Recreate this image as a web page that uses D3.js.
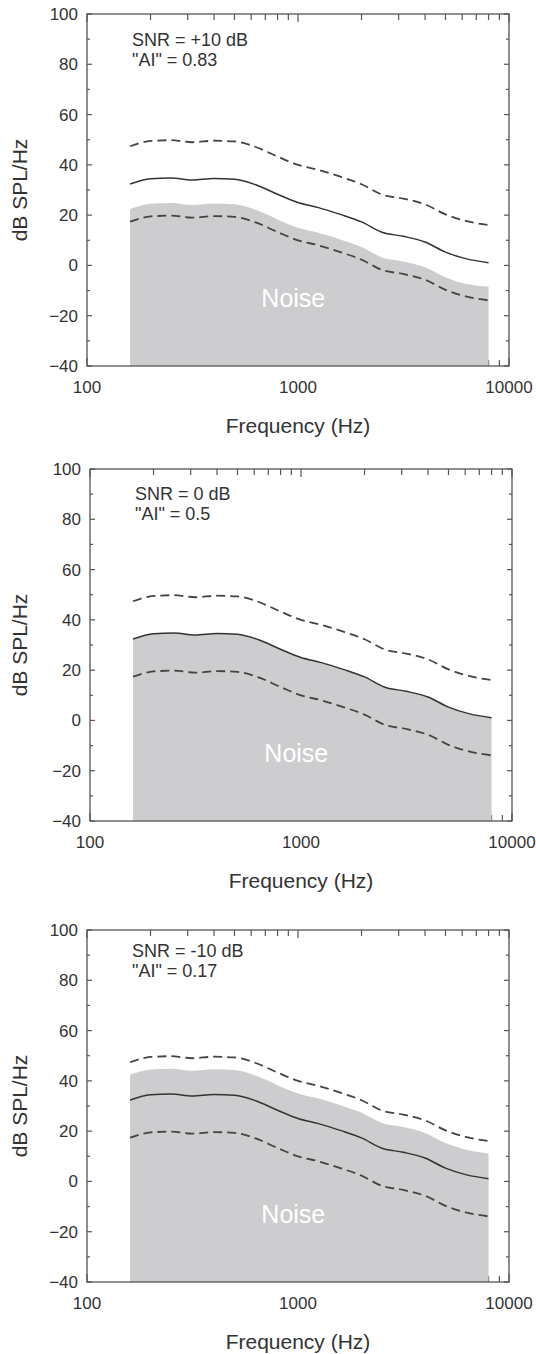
<!DOCTYPE html>
<html>
<head>
<meta charset="utf-8">
<script src="https://cdn.jsdelivr.net/npm/d3@7/dist/d3.min.js"></script>
<style>
body { margin: 0; background: #fff; }
svg { display: block; font-family: "Liberation Sans", Arial, sans-serif; }
</style>
</head>
<body>
<svg id="chart" width="536" height="1354"></svg>
<script>
// 1/3-octave band centres (Hz)
var freqs = [160, 200, 250, 315, 400, 500, 630, 800, 1000, 1250, 1600, 2000, 2500, 3150, 4000, 5000, 6300, 8000];

// speech spectrum (solid) and its dynamic range (dashed), dB SPL/Hz
var speech     = [32.4, 34.5, 34.8, 34.0, 34.6, 34.3, 32.1, 28.3, 25.0, 23.0, 20.2, 17.3, 13.2, 11.6, 9.3, 5.3, 2.6, 1.1];
var speechHigh = [47.4, 49.5, 49.8, 49.0, 49.6, 49.3, 47.1, 43.3, 40.0, 38.0, 35.2, 32.3, 28.2, 26.6, 24.3, 20.3, 17.6, 16.1];
var speechLow  = [17.4, 19.5, 19.8, 19.0, 19.6, 19.3, 17.1, 13.3, 10.0, 8.0, 5.2, 2.3, -1.8, -3.4, -5.7, -9.7, -12.4, -13.9];

// noise spectrum in each panel
var noisePlus10  = [22.4, 24.5, 24.8, 24.0, 24.6, 24.3, 22.1, 18.3, 15.0, 13.0, 10.2, 7.3, 3.2, 1.6, -0.7, -4.7, -7.4, -8.4];
var noiseZero    = [32.4, 34.5, 34.8, 34.0, 34.6, 34.3, 32.1, 28.3, 25.0, 23.0, 20.2, 17.3, 13.2, 11.6, 9.3, 5.3, 2.6, 1.1];
var noiseMinus10 = [42.4, 44.5, 44.8, 44.0, 44.6, 44.3, 42.1, 38.3, 35.0, 33.0, 30.2, 27.3, 23.2, 21.6, 19.3, 15.3, 12.6, 11.1];

var snrLabels = ["SNR = +10 dB", "SNR = 0 dB", "SNR = -10 dB"];
var aiLabels = ['"AI" = 0.83', '"AI" = 0.5', '"AI" = 0.17'];

var xTickValues = [100, 1000, 10000];
var yTickValues = [100, 80, 60, 40, 20, 0, -20, -40];

var noiseSets = [noisePlus10, noiseZero, noiseMinus10];

// layout
var width = 422,
    height = 352;
var panelLefts = [87, 90, 87],
    panelTops = [14, 469, 930],
    textTops = [32, 31, 27];

var svg = d3.select("#chart");

function fmt(v) { return v < 0 ? "\u2212" + (-v) : "" + v; }

panelTops.forEach(function(top, p) {
  var x = d3.scaleLog().domain([100, 10000]).range([0, width]);
  var y = d3.scaleLinear().domain([-40, 100]).range([height, 0]);

  var g = svg.append("g")
      .attr("transform", "translate(" + panelLefts[p] + "," + top + ")");

  // tick marks, all pointing inward
  var xt = x.ticks();
  var isMajor = function(d) { return xTickValues.indexOf(d) >= 0; };
  g.selectAll(".xtb").data(xt).enter().append("line")
      .attr("x1", x).attr("x2", x)
      .attr("y1", height).attr("y2", function(d) { return height - (isMajor(d) ? 8 : 6); });
  g.selectAll(".xtt").data(xt).enter().append("line")
      .attr("x1", x).attr("x2", x)
      .attr("y1", 0).attr("y2", function(d) { return isMajor(d) ? 8 : 6; });

  var yt = y.ticks(14);
  var yLen = function(d) { return yTickValues.indexOf(d) >= 0 ? 5 : 3; };
  g.selectAll(".ytl").data(yt).enter().append("line")
      .attr("x1", 0).attr("x2", yLen)
      .attr("y1", y).attr("y2", y);
  g.selectAll(".ytr").data(yt).enter().append("line")
      .attr("x1", width).attr("x2", function(d) { return width - yLen(d); })
      .attr("y1", y).attr("y2", y);
  g.selectAll("line").attr("stroke", "#555").attr("stroke-width", 1.2);

  // noise band
  var area = d3.area()
      .x(function(d, i) { return x(freqs[i]); })
      .y0(y(-40))
      .y1(function(d) { return y(d); })
      .curve(d3.curveMonotoneX);
  g.append("path")
      .datum(noiseSets[p])
      .attr("d", area)
      .attr("fill", "#cdcdd0");

  var line = d3.line()
      .x(function(d, i) { return x(freqs[i]); })
      .y(function(d) { return y(d); })
      .curve(d3.curveMonotoneX);

  [speechHigh, speechLow].forEach(function(s) {
    g.append("path")
        .datum(s)
        .attr("d", line)
        .attr("fill", "none")
        .attr("stroke", "#444")
        .attr("stroke-width", 1.8)
        .attr("stroke-dasharray", "9,5");
  });
  g.append("path")
      .datum(speech)
      .attr("d", line)
      .attr("fill", "none")
      .attr("stroke", "#333")
      .attr("stroke-width", 1.5);

  // frame
  g.append("rect")
      .attr("width", width).attr("height", height)
      .attr("fill", "none")
      .attr("stroke", "#555")
      .attr("stroke-width", 1.3);

  // tick labels
  g.selectAll(".xl").data(xTickValues).enter().append("text")
      .attr("x", x)
      .attr("y", height + 27)
      .attr("text-anchor", "middle")
      .attr("font-size", 17)
      .attr("fill", "#333")
      .text(function(d) { return d; });
  g.selectAll(".yl").data(yTickValues).enter().append("text")
      .attr("x", -9)
      .attr("y", y)
      .attr("dy", "0.35em")
      .attr("text-anchor", "end")
      .attr("font-size", 17)
      .attr("fill", "#333")
      .text(fmt);

  // axis titles
  g.append("text")
      .attr("x", x(1000))
      .attr("y", height + 67)
      .attr("text-anchor", "middle")
      .attr("font-size", 21)
      .attr("fill", "#333")
      .text("Frequency (Hz)");
  g.append("text")
      .attr("transform", "translate(" + (27 - panelLefts[p]) + "," + (height / 2) + ") rotate(-90)")
      .attr("text-anchor", "middle")
      .attr("font-size", 21)
      .attr("fill", "#333")
      .text("dB SPL/Hz");

  // annotation
  g.append("text")
      .attr("x", 45)
      .attr("y", textTops[p])
      .attr("font-size", 18)
      .attr("fill", "#333")
      .text(snrLabels[p]);
  g.append("text")
      .attr("x", 45)
      .attr("y", textTops[p] + 19.5)
      .attr("font-size", 18)
      .attr("fill", "#333")
      .text(aiLabels[p]);

  g.append("text")
      .attr("x", x(950))
      .attr("y", y(-16.5))
      .attr("text-anchor", "middle")
      .attr("font-size", 25)
      .attr("fill", "#fff")
      .text("Noise");
});
</script>
</body>
</html>
